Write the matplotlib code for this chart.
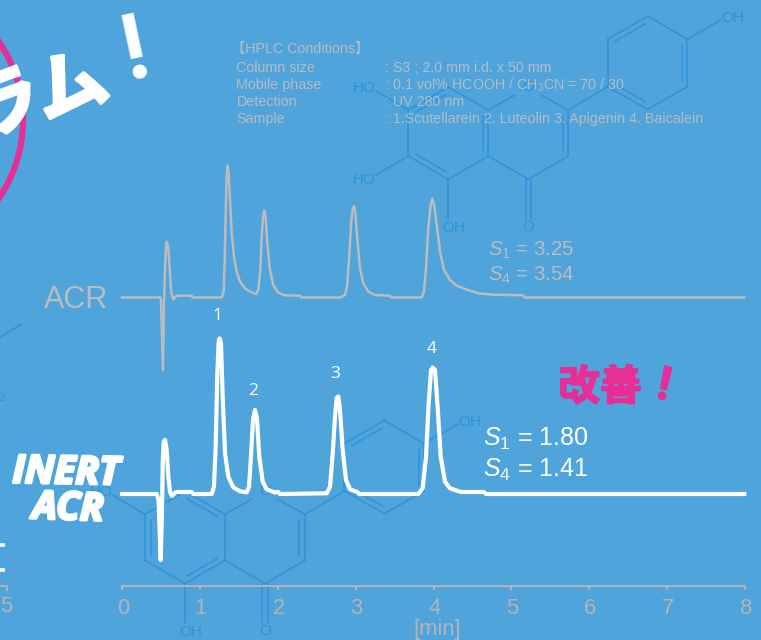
import matplotlib
matplotlib.use('Agg')
import matplotlib.pyplot as plt
import matplotlib.patheffects as pe
from matplotlib.patches import Arc
from matplotlib.transforms import Bbox, ScaledTranslation

plt.rcParams['mathtext.fontset'] = 'custom'
plt.rcParams['mathtext.rm'] = 'Liberation Sans'
plt.rcParams['mathtext.it'] = 'Liberation Sans:italic'

# chromatogram traces, retention time [min] and signal height
acr_time = [0, 0.494, 0.50, 0.526, 0.539, 0.552, 0.565, 0.574, 0.595, 0.613, 0.633, 0.659, 0.702, 0.895, 0.908,
            1.28, 1.306, 1.319, 1.332, 1.345, 1.357, 1.37, 1.387, 1.409, 1.438, 1.473, 1.515, 1.579, 1.644, 1.721,
            1.75, 1.776, 1.794, 1.811, 1.827, 1.845, 1.866, 1.90, 1.943, 2.007, 2.093, 2.286, 2.299,
            2.80, 2.864, 2.893, 2.919, 2.944, 2.963, 2.979, 2.996, 3.021, 3.056, 3.098, 3.163, 3.249, 3.441, 3.45,
            3.848, 3.878, 3.904, 3.933, 3.964, 3.985, 4.007, 4.041, 4.084, 4.135, 4.212, 4.298, 4.405, 4.575, 4.768,
            5.153, 5.166, 7.99]
acr_signal = [0, 0, -2.5, -72.5, -5, 27.5, 49.2, 55.8, 49.2, 27.5, 4.5, -1.8, 1.8, 1.8, 0,
              0, 5.8, 37.5, 87.5, 124.2, 131.8, 124.2, 97.5, 64.2, 40.8, 25.8, 15.8, 9.2, 5.8, 3.5,
              7.5, 27.5, 60.8, 80.8, 86.8, 79.2, 54.2, 27.5, 12.5, 4.8, 2.2, 1.8, 0,
              0, 2.5, 12.5, 42.5, 75.8, 88.5, 91.2, 85.8, 59.2, 29.2, 14.2, 5.8, 2.5, 1.8, 0,
              0, 5.8, 29.2, 69.2, 92.5, 98.8, 92.5, 72.5, 45.8, 27.5, 17.5, 11.8, 8.5, 4.2, 2.8,
              2.2, 0, 0]

inert_time = [0, 0.446, 0.469, 0.497, 0.513, 0.523, 0.535, 0.552, 0.574, 0.595, 0.616, 0.642, 0.681, 0.702, 0.895, 0.916,
              1.152, 1.181, 1.203, 1.224, 1.242, 1.255, 1.271, 1.293, 1.323, 1.365, 1.429, 1.515, 1.601,
              1.631, 1.656, 1.682, 1.708, 1.733, 1.763, 1.807, 1.858, 1.965, 2.007, 2.029,
              2.629, 2.671, 2.706, 2.735, 2.757, 2.777, 2.799, 2.834, 2.876, 2.928, 3.021, 3.047,
              3.805, 3.861, 3.904, 3.938, 3.968, 3.99, 4.019, 4.053, 4.092, 4.148, 4.212, 4.34, 4.383, 4.648, 4.674, 7.99]
inert_signal = [0, 0, -6, -66, -20, 31, 52.3, 54, 44, 17.3, 2.3, -2, 1.3, 2, 2, 0,
                0, 7.3, 47.3, 120.7, 154, 155.5, 150.7, 97.3, 40.7, 17.3, 6.7, 2.7, 1.7,
                7.3, 37.3, 74, 84, 75.7, 37.3, 12.3, 4.7, 1.5, 2, 0,
                0.7, 7.3, 40.7, 77.3, 96, 97.5, 84, 44, 14, 4.7, 2, 0,
                0, 5.7, 37.3, 90.7, 124, 126.5, 124, 87.3, 37.3, 12.3, 5.7, 2.3, 2, 2, 0, 0]

peak_labels = ['1', '2', '3', '4']
peak_times = [1.23, 1.69, 2.74, 3.98]
peak_heights = [178, 103, 120, 145]

time_ticks = [0, 1, 2, 3, 4, 5, 6, 7, 8]

condition_keys = ['Column size', 'Mobile phase', 'Detection', 'Sample']
condition_values = [': S3 ; 2.0 mm i.d. x 50 mm',
                    ': 0.1 vol% HCOOH / CH$_3$CN = 70 / 30',
                    ': UV 280 nm',
                    ': 1.Scutellarein 2. Luteolin 3. Apigenin 4. Baicalein']

BLUE = '#4fa4dc'
GREY = '#bcbcbc'
TEXT_GREY = '#b5bcc2'
STRUCT = '#2f93d8'
PINK = '#e62e96'
SANS = ['Liberation Sans', 'Noto Sans CJK JP']
CJK = ['Noto Sans CJK JP', 'DejaVu Sans']

fig = plt.figure(figsize=(7.61, 6.40), dpi=100, facecolor=BLUE)

# background layer in pixel coordinates, for the structures and the notes
bg = fig.add_axes([0, 0, 1, 1], zorder=0)
bg.set_xlim(0, 761)
bg.set_ylim(640, 0)
bg.axis('off')


def bond(a, b, dx, dy):
    bg.plot([a[0] + dx, b[0] + dx], [a[1] + dy, b[1] + dy], color=STRUCT, lw=1.1, zorder=1)


def inner_bond(a, b, centre, dx, dy):
    # second line of a double bond, pulled towards the ring centre
    mx, my = (a[0] + b[0]) / 2, (a[1] + b[1]) / 2
    vx, vy = centre[0] - mx, centre[1] - my
    size = (vx ** 2 + vy ** 2) ** 0.5
    ox, oy = vx / size * 5.5, vy / size * 5.5
    p = (a[0] + (b[0] - a[0]) * 0.12 + ox, a[1] + (b[1] - a[1]) * 0.12 + oy)
    q = (a[0] + (b[0] - a[0]) * 0.88 + ox, a[1] + (b[1] - a[1]) * 0.88 + oy)
    bond(p, q, dx, dy)


def atom(x, y, label, clip=False):
    t = bg.text(x, y, label, color=STRUCT, fontsize=11, family=SANS, ha='center', va='center', zorder=1)
    if clip:
        t.set_clip_on(True)
        t.set_clip_box(Bbox([[0, 408], [761, 640]]))


def flavone(dx, dy, ring_a_doubles, c6_oh, clip_bottom):
    c7, c8, c8a = (408.3, 110), (448.3, 87), (488.3, 110)
    c4a, c5, c6 = (488.3, 156), (448.3, 179.3), (408.3, 156)
    o1, c2, c3, c4 = (528.3, 87.3), (568.3, 110), (568.3, 156), (528.3, 179.3)
    b1, b2, b3 = (607.7, 86.7), (607.7, 39.3), (647.7, 16)
    b4, b5, b6 = (687.3, 39.3), (687.3, 86.7), (647.7, 109.3)
    ring_a = [c7, c8, c8a, c4a, c5, c6, c7]
    for a, b in zip(ring_a[:-1], ring_a[1:]):
        bond(a, b, dx, dy)
    ring_b = [b1, b2, b3, b4, b5, b6, b1]
    for a, b in zip(ring_b[:-1], ring_b[1:]):
        bond(a, b, dx, dy)
    bond(c8a, (515, 95), dx, dy)
    bond((541, 95), c2, dx, dy)
    for a, b in [(c2, c3), (c3, c4), (c4, c4a), (c2, b1), (c5, (448.3, 219)), (c7, (376, 91)), (b4, (721, 20))]:
        bond(a, b, dx, dy)
    bond((525.5, 179.3), (525.5, 219), dx, dy)
    bond((531, 179.3), (531, 219), dx, dy)
    ring_a_centre = (448.3, 133)
    names = {'c7c8': (c7, c8), 'c6c5': (c6, c5), 'c8ac4a': (c8a, c4a),
             'c7c6': (c7, c6), 'c5c4a': (c5, c4a), 'c8c8a': (c8, c8a)}
    for key in ring_a_doubles:
        inner_bond(names[key][0], names[key][1], ring_a_centre, dx, dy)
    inner_bond(c2, c3, (528.3, 133), dx, dy)
    for a, b in [(b2, b3), (b4, b5), (b1, b6)]:
        inner_bond(a, b, (647.5, 62.7), dx, dy)
    atom(454 + dx, 228 + dy, 'OH', clip_bottom)
    atom(528 + dx, 227 + dy, 'O', clip_bottom)
    atom(528 + dx, 87 + dy, 'O')
    atom(364 + dx, 88 + dy, 'HO')
    atom(733 + dx, 18 + dy, 'OH')
    if c6_oh:
        bond(c6, (376, 175), dx, dy)
        atom(364 + dx, 180 + dy, 'HO')


flavone(0, 0, ['c7c8', 'c6c5', 'c8ac4a'], True, True)
flavone(-263.3, 404.3, ['c7c6', 'c5c4a', 'c8c8a'], False, False)
bg.plot([0, 22], [337, 324], color=STRUCT, lw=1.1, zorder=1)
bg.text(2, 398, '2', color=STRUCT, fontsize=7, family=SANS, ha='center', va='center')

# conditions block
bg.text(231, 49, '【HPLC Conditions】', color=TEXT_GREY, fontsize=10.3, family=SANS, va='center', zorder=3)
for y, key, value in zip([68, 85, 102, 119], condition_keys, condition_values):
    bg.text(236.5, y, key, color=TEXT_GREY, fontsize=10.3, family=SANS, va='center', zorder=3)
    bg.text(385, y, value, color=TEXT_GREY, fontsize=10.3, family=SANS, va='center', zorder=3)

# tilted headline cut off by the left edge
bg.add_patch(Arc((-116, 120), 278, 278, theta1=-40, theta2=40, color=PINK, lw=4.4, zorder=2))
heavy = [pe.withStroke(linewidth=2.5, foreground='white')]
bg.text(6, 106, 'ラ', color='white', fontsize=52, family=CJK, weight='bold', rotation=20,
        ha='center', va='center', zorder=3, path_effects=heavy)
bg.text(71, 88, 'ム', color='white', fontsize=52, family=CJK, weight='bold', rotation=20,
        ha='center', va='center', zorder=3, path_effects=heavy)
bg.text(135, 52, '!', color='white', fontsize=65, family='Roboto', weight='bold', rotation=12,
        ha='center', va='center', zorder=3)

# fragments of the neighbouring panel on the left edge
bg.plot([0, 5], [545, 545], color='white', lw=2.6, solid_capstyle='butt')
bg.plot([0, 5], [570, 570], color='white', lw=2.6, solid_capstyle='butt')
bg.plot([0, 7, 7], [585.7, 585.7, 590], color='#b4b4b4', lw=1.4)
bg.text(6, 607, '5', color='#b4b4b4', fontsize=15.8, family=SANS, ha='center', va='center')

# trace names and notes
bg.text(44, 300, 'ACR', color=GREY, fontsize=22, family=SANS, va='center', zorder=3)
bold = [pe.withStroke(linewidth=2, foreground='white')]
bg.text(66, 473, 'INERT', color='white', fontsize=28, family='Open Sans', weight='bold', style='italic',
        rotation=-1, ha='center', va='center', path_effects=bold, zorder=3)
bg.text(68, 509, 'ACR', color='white', fontsize=28, family='Open Sans', weight='bold', style='italic',
        rotation=-2, ha='center', va='center', path_effects=bold, zorder=3)
bg.text(488, 250, r'$\mathit{S}_{1}$ = 3.25', color=GREY, fontsize=14.7, family=SANS, va='center', zorder=3)
bg.text(488, 275, r'$\mathit{S}_{4}$ = 3.54', color=GREY, fontsize=14.7, family=SANS, va='center', zorder=3)
bg.text(483, 439, r'$\mathit{S}_{1}$ = 1.80', color='white', fontsize=18, family=SANS, va='center', zorder=3)
bg.text(483, 470, r'$\mathit{S}_{4}$ = 1.41', color='white', fontsize=18, family=SANS, va='center', zorder=3)
thick = [pe.withStroke(linewidth=1.2, foreground=PINK)]
bg.text(600, 388, '改善', color=PINK, fontsize=30, family=CJK, weight='bold', ha='center', va='center',
        path_effects=thick, zorder=3)
bg.text(664, 386, '!', color=PINK, fontsize=33, family='Roboto', weight='bold', rotation=-12,
        ha='center', va='center', zorder=3, path_effects=thick)

# chromatogram axes: baseline of the lower trace sits at y = 0, 1 min = 77.875 px
ax = fig.add_axes([0, 0, 1, 1], zorder=1)
ax.patch.set_visible(False)
ax.set_xlim(-122 / 77.875, 639 / 77.875)
ax.set_ylim(-146, 494)

acr_offset = 196.5
ax.plot(acr_time, [v + acr_offset for v in acr_signal], color=GREY, lw=1.8, solid_joinstyle='round')
ax.plot(inert_time, inert_signal, color='white', lw=3.0, solid_joinstyle='round')

for label, t, h in zip(peak_labels, peak_times, peak_heights):
    ax.text(t, h, label, color='white', fontsize=12.5, family='Open Sans', ha='center', va='center')

for name in ['top', 'left', 'right']:
    ax.spines[name].set_visible(False)
ax.spines['bottom'].set_position(('data', -91.7))
ax.spines['bottom'].set_bounds(0, 8)
ax.spines['bottom'].set_color('#b4b4b4')
ax.spines['bottom'].set_linewidth(1.4)
ax.set_yticks([])
ax.set_xticks(time_ticks)
ax.tick_params(axis='x', direction='out', length=3, width=1.4, color='#b4b4b4', labelcolor='#b4b4b4',
               labelsize=15.8, pad=6)
for lab in ax.get_xticklabels():
    lab.set_family(SANS)
    lab.set_transform(lab.get_transform() + ScaledTranslation(0.01, 0, fig.dpi_scale_trans))
ax.set_xlabel('[min]', color='#b4b4b4', fontsize=15.8, family=SANS, x=0.574, labelpad=0)

fig.savefig('out.png', dpi=100, facecolor=BLUE)
